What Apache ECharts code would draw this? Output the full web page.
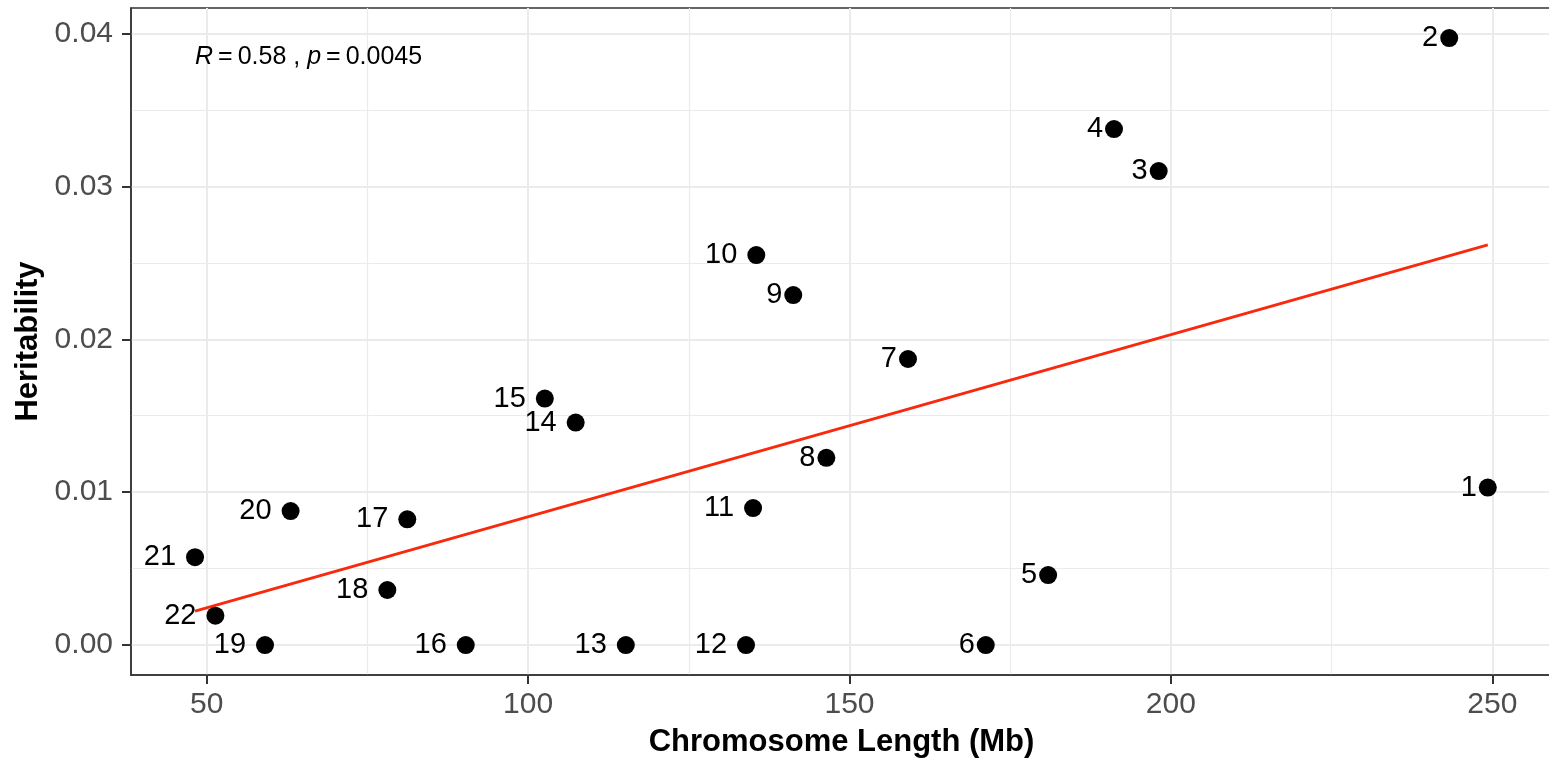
<!DOCTYPE html>
<html><head><meta charset="utf-8">
<script src="https://cdn.jsdelivr.net/npm/echarts@6/dist/echarts.min.js"></script>
<style>html,body{margin:0;padding:0;background:#fff}#c{width:1549px;height:761px}</style>
</head><body><div id="c"></div>
<script>
const chromosomes = ['1','2','3','4','5','6','7','8','9','10','11','12','13','14','15','16','17','18','19','20','21','22'];
const lengthMb = [249.3, 243.3, 198.1, 191.15, 180.9, 171.2, 159.1, 146.4, 141.25, 135.5, 135.0, 133.9, 115.2, 107.4, 102.6, 90.3, 81.2, 78.1, 59.07, 63.05, 48.18, 51.35];
const heritability = [0.01030, 0.03970, 0.03100, 0.03375, 0.00458, 0, 0.01871, 0.01225, 0.02289, 0.02551, 0.00896, 0, 0, 0.01455, 0.01612, 0, 0.00822, 0.00360, 0, 0.00876, 0.00575, 0.00192];
const fitX = [48.18, 249.3];
const fitY = [0.00222, 0.02617];
const xTicks = [50, 100, 150, 200, 250];
const yTicks = [0, 0.01, 0.02, 0.03, 0.04];
const statR = '0.58';
const statP = '0.0045';
const xTitle = 'Chromosome Length (Mb)';
const yTitle = 'Heritability';

const FONT = "'Liberation Sans', Arial, Helvetica, sans-serif";
const chart = echarts.init(document.getElementById('c'), null, {renderer: 'canvas'});

const points = chromosomes.map((c, i) => ({
  name: c,
  value: [lengthMb[i], heritability[i]],
  label: {distance: c.length > 1 ? 10 : 2}
}));

const gridCol = '#EBEBEB';
const axisCommon = {
  type: 'value',
  axisLine: {show: true, onZero: false, lineStyle: {color: '#333333', width: 1.5}},
  axisTick: {show: true, length: 9, lineStyle: {color: '#333333', width: 2}},
  axisLabel: {color: '#4D4D4D', fontSize: 30, fontFamily: FONT},
  splitLine: {show: true, lineStyle: {color: gridCol, width: 2}},
  minorTick: {show: false, splitNumber: 2},
  minorSplitLine: {show: true, lineStyle: {color: gridCol, width: 1.2}}
};

chart.setOption({
  animation: false,
  backgroundColor: '#ffffff',
  grid: {left: 131, top: 8, right: -3, bottom: 86, outerBoundsMode: 'none', containLabel: false, show: true, borderColor: '#333333', borderWidth: 1.5, backgroundColor: '#ffffff'},
  xAxis: Object.assign({}, axisCommon, {
    min: 38.22, max: 259.29,
    axisTick: Object.assign({}, axisCommon.axisTick, {customValues: xTicks}),
    axisLabel: Object.assign({}, axisCommon.axisLabel, {customValues: xTicks, margin: 15, formatter: v => String(v)}),
    name: xTitle, nameLocation: 'middle', nameGap: 52,
    nameTextStyle: {fontSize: 31, fontWeight: 'bold', color: '#000', fontFamily: FONT}
  }),
  yAxis: Object.assign({}, axisCommon, {
    min: -0.00196, max: 0.04167,
    axisTick: Object.assign({}, axisCommon.axisTick, {customValues: yTicks}),
    axisLabel: Object.assign({}, axisCommon.axisLabel, {customValues: yTicks, margin: 18, formatter: v => Number(v).toFixed(2)}),
    name: yTitle, nameLocation: 'middle', nameGap: 86,
    nameTextStyle: {fontSize: 31, fontWeight: 'bold', color: '#000', fontFamily: FONT}
  }),
  graphic: [{
    type: 'text', left: 195, top: 45, silent: true, z: 100,
    style: {
      text: '{i|R}{n|\u2009=\u2009' + statR + ' , }{i|p}{n|\u2009=\u2009' + statP + '}',
      rich: {
        i: {fontStyle: 'italic', fontSize: 25, fontFamily: FONT, fill: '#000'},
        n: {fontSize: 25, fontFamily: FONT, fill: '#000'}
      }
    }
  }],
  series: [
    {
      type: 'line', data: fitX.map((x, i) => [x, fitY[i]]), showSymbol: false, symbol: 'none',
      lineStyle: {color: '#F8290D', width: 2.8}, z: 3, silent: true
    },
    {
      type: 'scatter', data: points, symbol: 'circle', symbolSize: 18,
      itemStyle: {color: '#000000', opacity: 1}, z: 4,
      label: {show: true, position: 'left', formatter: '{b}', color: '#000000', opacity: 1, fontSize: 29, fontFamily: FONT}
    }
  ]
});
</script>
</body></html>
